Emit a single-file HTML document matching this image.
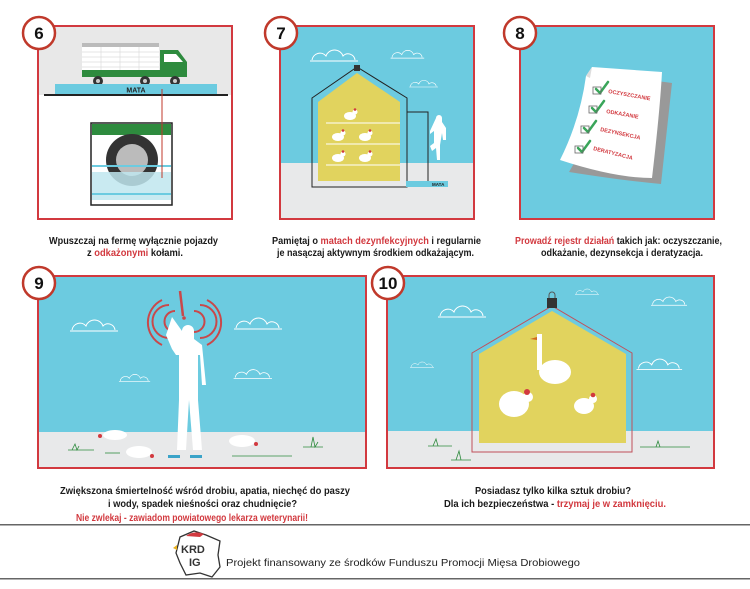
<!DOCTYPE html>
<html><head><meta charset="utf-8"><style>
html,body{margin:0;padding:0;background:#fff;width:750px;height:589px;overflow:hidden}
svg{display:block}
.c{font-family:"Liberation Sans Narrow","Liberation Sans",sans-serif;font-weight:bold;font-size:10.5px;fill:#1a1a1a}
.r{fill:#d2393f}
.n{font-family:"Liberation Sans",sans-serif;font-weight:bold;font-size:17px;fill:#111}
</style></head><body>
<svg width="750" height="589" viewBox="0 0 750 589" xmlns="http://www.w3.org/2000/svg">
<defs>
<g id="cloud" fill="none" stroke="#fff" stroke-width="1"><path d="M2 14 a8 8 0 0 1 14 -4 a9 9 0 0 1 17 0 a7 7 0 0 1 12 4"/><line x1="0" y1="15" x2="48" y2="15"/></g>
<g id="hen"><ellipse cx="0" cy="0" rx="6" ry="4" fill="#fff"/><circle cx="5" cy="-4" r="2.5" fill="#fff"/><circle cx="5" cy="-6.5" r="1.3" fill="#d2393f"/></g>
</defs>

<!-- PANEL 6 -->
<rect x="38" y="26" width="194" height="193" fill="#fff"/>
<rect x="38" y="26" width="194" height="69" fill="#e8e8e8"/>
<rect x="82" y="43" width="77" height="4" fill="#bbb"/>
<rect x="82" y="47" width="77" height="24" fill="#fff"/>
<g stroke="#ddd" stroke-width="0.7"><line x1="82" y1="52" x2="159" y2="52"/><line x1="82" y1="57" x2="159" y2="57"/><line x1="82" y1="62" x2="159" y2="62"/><line x1="82" y1="67" x2="159" y2="67"/><line x1="101" y1="47" x2="101" y2="71"/><line x1="120" y1="47" x2="120" y2="71"/><line x1="139" y1="47" x2="139" y2="71"/></g>
<rect x="82" y="70" width="78" height="7" fill="#2e8b3e"/>
<path d="M160 50 H178 L187 62 V77 H160 Z" fill="#2e8b3e"/>
<path d="M164 54 H176 L183 62 H164 Z" fill="#fff"/>
<g fill="#333"><circle cx="98" cy="81" r="5"/><circle cx="145" cy="81" r="5"/><circle cx="175" cy="81" r="5"/></g>
<g fill="#ccc"><circle cx="98" cy="81" r="2"/><circle cx="145" cy="81" r="2"/><circle cx="175" cy="81" r="2"/></g>
<rect x="55" y="84" width="162" height="10" fill="#6ccbe0"/>
<text x="136" y="92.5" font-family="Liberation Sans,sans-serif" font-weight="bold" font-size="7" fill="#222" text-anchor="middle">MATA</text>
<rect x="44" y="94" width="184" height="2" fill="#222"/>
<rect x="91" y="123" width="81" height="82" fill="#fff" stroke="#222" stroke-width="1.5"/>
<rect x="92" y="124" width="79" height="11" fill="#2e8b3e"/>
<circle cx="132" cy="160" r="26" fill="#333"/>
<circle cx="132" cy="160" r="16" fill="#bbb"/>
<rect x="92" y="172" width="79" height="28" fill="#bfe6ef" opacity="0.85"/>
<rect x="92" y="165" width="79" height="2" fill="#6ccbe0"/>
<rect x="92" y="193" width="79" height="2" fill="#6ccbe0"/>
<line x1="162" y1="89" x2="162" y2="178" stroke="#c0392b" stroke-width="1"/>
<rect x="38" y="26" width="194" height="193" fill="none" stroke="#d2393f" stroke-width="2"/>

<!-- PANEL 7 -->
<rect x="280" y="26" width="194" height="193" fill="#6ccbe0"/>
<rect x="280" y="163" width="194" height="56" fill="#e8e9ea"/>
<use href="#cloud" x="310" y="46"/>
<use href="#cloud" x="388" y="43" transform="scale(0.7) translate(170,25)"/>
<use href="#cloud" x="412" y="70" transform="scale(0.6) translate(270,60)"/>
<path d="M318 102 L357 73 L400 102 V181 H318 Z" fill="#e1d35e"/>
<path d="M312 98 L357 67 L407 98 V187 H312 Z" fill="none" stroke="#222" stroke-width="1"/>
<rect x="354" y="65" width="6" height="6" fill="#333"/>
<rect x="407" y="112" width="21" height="74" fill="none" stroke="#222" stroke-width="1"/>
<g stroke="#fff" stroke-width="1"><line x1="326" y1="123" x2="400" y2="123"/><line x1="326" y1="144" x2="400" y2="144"/><line x1="326" y1="165" x2="400" y2="165"/></g>
<use href="#hen" x="350" y="116"/><use href="#hen" x="338" y="137"/><use href="#hen" x="365" y="137"/><use href="#hen" x="338" y="158"/><use href="#hen" x="365" y="158"/>
<rect x="406" y="181" width="42" height="6" fill="#6ccbe0"/>
<text x="432" y="186" font-family="Liberation Sans,sans-serif" font-weight="bold" font-size="4.5" fill="#222">MATA</text>
<path d="M436 118 a3 3 0 1 1 6 0 v4 l4 6 v12 h-3 l-1 -7 l-2 12 v15 h-3 l-1 -12 l-4 3 l-2 -5 l4 -3 v-12 l-4 3 v-3 z" fill="#fff"/>
<rect x="280" y="26" width="194" height="193" fill="none" stroke="#d2393f" stroke-width="2"/>

<!-- PANEL 8 -->
<rect x="520" y="26" width="194" height="193" fill="#6ccbe0"/>
<path d="M592 67 L666 77 L655 178 Q620 175 563 166 L578 140 Q585 100 592 67 Z" fill="#999" transform="translate(6,6)"/>
<path d="M592 67 L662 72 Q660 110 652 178 Q615 178 560 160 Q580 120 586 76 Z" fill="#fff"/>
<path d="M586 76 L592 67 L590 78 Z" fill="#ddd"/>
<g fill="none" stroke="#3aa55a" stroke-width="2.5" stroke-linecap="round"><path d="M596 89 l4 4 l8 -11"/><path d="M592 108 l4 4 l8 -11"/><path d="M584 128 l4 4 l8 -11"/><path d="M578 148 l4 4 l8 -11"/></g>
<g fill="none" stroke="#666" stroke-width="0.8"><rect x="593" y="87" width="8" height="7"/><rect x="589" y="106" width="8" height="7"/><rect x="581" y="126" width="8" height="7"/><rect x="575" y="146" width="8" height="7"/></g>
<g font-family="Liberation Sans,sans-serif" font-weight="bold" font-size="5.5" fill="#d2393f">
<text x="608" y="93" transform="rotate(10 608 93)">OCZYSZCZANIE</text>
<text x="606" y="113" transform="rotate(10 606 113)">ODKAŻANIE</text>
<text x="600" y="131" transform="rotate(12 600 131)">DEZYNSEKCJA</text>
<text x="593" y="150" transform="rotate(14 593 150)">DERATYZACJA</text>
</g>
<rect x="520" y="26" width="194" height="193" fill="none" stroke="#d2393f" stroke-width="2"/>

<!-- PANEL 9 -->
<rect x="38" y="276" width="328" height="192" fill="#6ccbe0"/>
<rect x="38" y="432" width="328" height="36" fill="#e8e9ea"/>
<use href="#cloud" x="70" y="316"/><use href="#cloud" x="234" y="314"/>
<use href="#cloud" x="119" y="372" transform="scale(0.65) translate(64,200)"/>
<use href="#cloud" x="234" y="366" transform="scale(0.8) translate(58,92)"/>
<g fill="none" stroke="#c9484a" stroke-width="2">
<path d="M162 345 A25 25 0 0 1 162 300"/><path d="M207 345 A25 25 0 0 0 207 300"/>
<path d="M169 338 A16 16 0 0 1 169 305"/><path d="M200 338 A16 16 0 0 0 200 305"/>
<path d="M175 332 A8 8 0 0 1 175 311"/><path d="M194 332 A8 8 0 0 0 194 311"/>
<line x1="180" y1="291" x2="183" y2="316" stroke-width="2.5"/></g>
<circle cx="184" cy="318" r="1.8" fill="#c9484a"/>
<path d="M182 331 a6 6 0 0 1 12 0 v8 l8 6 l4 40 h-4 l-2 -30 l-2 0 v45 l4 50 h-9 l-4 -50 l-3 50 h-9 l2 -50 v-45 l-3 0 l-4 -6 l-6 -14 l6 -18 z" fill="#fff"/>
<path d="M168 455 h12 v3 h-12z M190 455 h12 v3 h-12z" fill="#3aa3c8"/>
<g fill="#fff"><ellipse cx="115" cy="435" rx="12" ry="5"/><ellipse cx="139" cy="452" rx="13" ry="6"/><ellipse cx="242" cy="441" rx="13" ry="6"/></g>
<g fill="#d2393f"><circle cx="100" cy="436" r="2"/><circle cx="152" cy="456" r="2"/><circle cx="256" cy="444" r="2"/></g>
<g stroke="#2e8b3e" stroke-width="0.8" fill="none"><path d="M68 450 h26 M72 450 l3 -6 l2 6 l2 -4"/><path d="M105 453 h15"/><path d="M232 456 h60"/><path d="M303 447 h20 M311 447 l2 -10 l2 10 l3 -5"/></g>
<rect x="38" y="276" width="328" height="192" fill="none" stroke="#d2393f" stroke-width="2"/>

<!-- PANEL 10 -->
<rect x="387" y="276" width="327" height="192" fill="#6ccbe0"/>
<rect x="387" y="431" width="327" height="37" fill="#e8e9ea"/>
<use href="#cloud" x="438" y="302"/><use href="#cloud" x="651" y="292" transform="scale(0.75) translate(217,100)"/>
<use href="#cloud" x="575" y="287" transform="scale(0.5) translate(575,287)"/>
<use href="#cloud" x="410" y="360" transform="scale(0.5) translate(410,360)"/>
<use href="#cloud" x="637" y="356" transform="scale(0.95) translate(33,18)"/>
<path d="M479 354 L552 311 L626 354 V443 H479 Z" fill="#e1d35e"/>
<path d="M472 353 L552 306 L632 353 V452 H472 Z" fill="none" stroke="#c0505a" stroke-width="1"/>
<rect x="547" y="298" width="10" height="10" fill="#333"/>
<path d="M549 298 v-3 a3 3 0 0 1 6 0 v3" fill="none" stroke="#555" stroke-width="1"/>
<ellipse cx="555" cy="372" rx="16" ry="12" fill="#fff"/><path d="M537 334 h5 v36 h-5z" fill="#fff"/><path d="M530 339 l7 -2 v3z" fill="#d2691e"/>
<ellipse cx="514" cy="404" rx="15" ry="13" fill="#fff"/><circle cx="528" cy="397" r="5" fill="#fff"/><circle cx="527" cy="392" r="3" fill="#d2393f"/>
<ellipse cx="584" cy="406" rx="10" ry="8" fill="#fff"/><circle cx="593" cy="399" r="4" fill="#fff"/><circle cx="593" cy="395" r="2.3" fill="#d2393f"/>
<g stroke="#2e8b3e" stroke-width="0.8" fill="none"><path d="M428 446 h24 M433 446 l3 -7 l2 7"/><path d="M451 460 h20 M456 460 l3 -9 l2 9"/><path d="M640 447 h50 M656 447 l2 -6 l2 6"/></g>
<rect x="387" y="276" width="327" height="192" fill="none" stroke="#d2393f" stroke-width="2"/>

<!-- number circles -->
<g fill="#fff" stroke="#c0392b" stroke-width="2.5">
<circle cx="39" cy="33" r="16"/><circle cx="281" cy="33" r="16"/><circle cx="520" cy="33" r="16"/><circle cx="39" cy="283" r="16"/><circle cx="388" cy="283" r="16"/></g>
<g class="n" text-anchor="middle"><text x="39" y="39">6</text><text x="281" y="39">7</text><text x="520" y="39">8</text><text x="39" y="289">9</text><text x="388" y="289">10</text></g>

<!-- captions -->
<g class="c">
<text x="49" y="244" textLength="169" lengthAdjust="spacingAndGlyphs">Wpuszczaj na fermę wyłącznie pojazdy</text>
<text x="87" y="256" textLength="96" lengthAdjust="spacingAndGlyphs">z <tspan class="r">odkażonymi</tspan> kołami.</text>
<text x="272" y="244" textLength="209" lengthAdjust="spacingAndGlyphs">Pamiętaj o <tspan class="r">matach dezynfekcyjnych</tspan> i regularnie</text>
<text x="277" y="256" textLength="197" lengthAdjust="spacingAndGlyphs">je nasączaj aktywnym środkiem odkażającym.</text>
<text x="515" y="244" textLength="207" lengthAdjust="spacingAndGlyphs"><tspan class="r">Prowadź rejestr działań</tspan> takich jak: oczyszczanie,</text>
<text x="541" y="256" textLength="162" lengthAdjust="spacingAndGlyphs">odkażanie, dezynsekcja i deratyzacja.</text>
<text x="60" y="494" textLength="290" lengthAdjust="spacingAndGlyphs">Zwiększona śmiertelność wśród drobiu, apatia, niechęć do paszy</text>
<text x="108" y="507" textLength="189" lengthAdjust="spacingAndGlyphs">i wody, spadek nieśności oraz chudnięcie?</text>
<text x="76" y="521" textLength="232" lengthAdjust="spacingAndGlyphs" class="c r">Nie zwlekaj - zawiadom powiatowego lekarza weterynarii!</text>
<text x="475" y="494" textLength="156" lengthAdjust="spacingAndGlyphs">Posiadasz tylko kilka sztuk drobiu?</text>
<text x="444" y="507" textLength="222" lengthAdjust="spacingAndGlyphs">Dla ich bezpieczeństwa - <tspan class="r">trzymaj je w zamknięciu.</tspan></text>
</g>

<!-- footer -->
<rect x="0" y="524" width="750" height="1.5" fill="#666"/>
<rect x="0" y="578" width="750" height="1.5" fill="#666"/>
<path d="M180 537 l14 -6 l12 4 l14 6 l-2 14 l2 12 l-8 10 l-12 -4 l-14 2 l-6 -12 l-4 -10 z" fill="#fff" stroke="#333" stroke-width="1.3"/>
<path d="M186 536 q8 -6 18 -2 l-4 3 z" fill="#d2393f"/>
<path d="M173 548 l4 -3 v5z" fill="#e8b020"/>
<text x="181" y="553" font-family="Liberation Sans,sans-serif" font-weight="bold" font-size="11" fill="#333">KRD</text>
<text x="189" y="566" font-family="Liberation Sans,sans-serif" font-weight="bold" font-size="11" fill="#333">IG</text>
<text x="226" y="566" font-family="Liberation Sans,sans-serif" font-size="10.5" fill="#222" textLength="354" lengthAdjust="spacingAndGlyphs">Projekt finansowany ze środków Funduszu Promocji Mięsa Drobiowego</text>
</svg>
</body></html>
